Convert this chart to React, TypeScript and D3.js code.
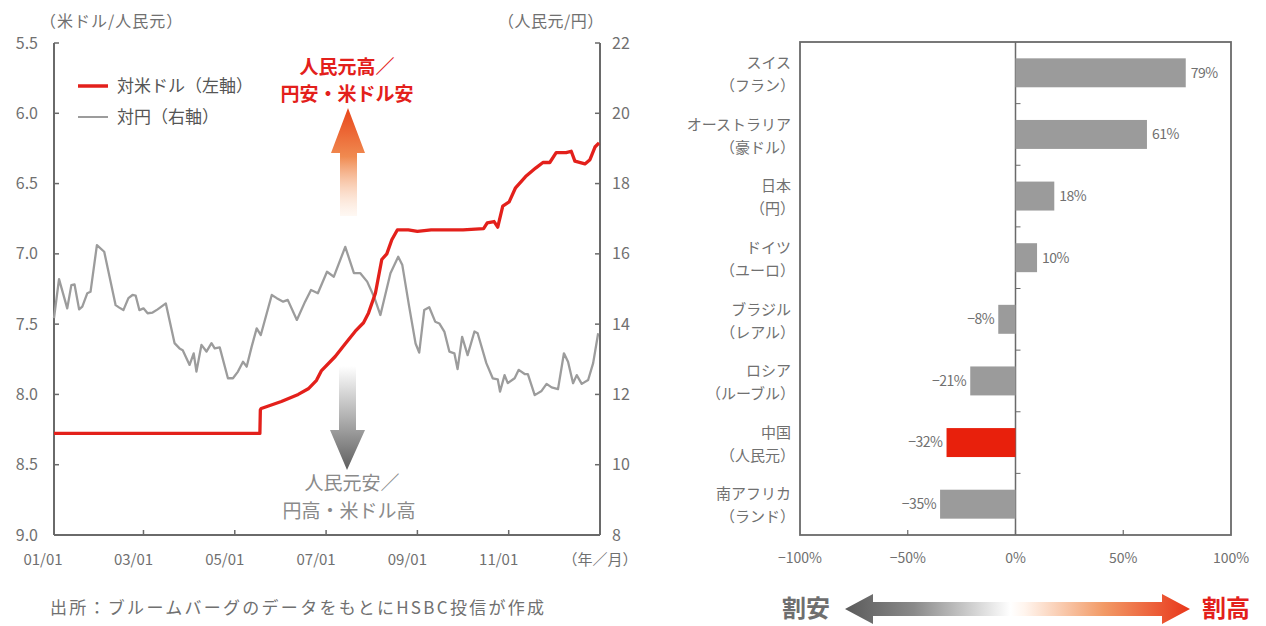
import React from "react";
import * as d3 from "d3";

// ---- Left chart data (decimal year, values) ----
const usdYears = [2001.0, 2005.55, 2005.56, 2005.58, 2006.02, 2006.39, 2006.61, 2006.79, 2006.9, 2007.2, 2007.42, 2007.64, 2007.82, 2007.93, 2008.08, 2008.22, 2008.33, 2008.44, 2008.56, 2008.8, 2009.0, 2009.3, 2009.6, 2010.0, 2010.45, 2010.53, 2010.68, 2010.76, 2010.87, 2011.01, 2011.15, 2011.37, 2011.59, 2011.75, 2011.9, 2012.04, 2012.26, 2012.37, 2012.45, 2012.67, 2012.78, 2012.89, 2012.98];
const usdValues = [8.277, 8.277, 8.11, 8.1, 8.05, 8.0, 7.96, 7.9, 7.83, 7.73, 7.64, 7.55, 7.49, 7.42, 7.28, 7.04, 7.0, 6.9, 6.83, 6.83, 6.84, 6.83, 6.83, 6.83, 6.82, 6.78, 6.77, 6.81, 6.66, 6.63, 6.53, 6.45, 6.39, 6.35, 6.35, 6.28, 6.28, 6.27, 6.34, 6.36, 6.33, 6.24, 6.21];

const jpyYears = [2001.0, 2001.15, 2001.33, 2001.42, 2001.49, 2001.59, 2001.66, 2001.77, 2001.84, 2001.98, 2002.14, 2002.39, 2002.47, 2002.56, 2002.67, 2002.76, 2002.83, 2002.91, 2003.0, 2003.09, 2003.2, 2003.31, 2003.49, 2003.68, 2003.79, 2003.86, 2004.01, 2004.1, 2004.16, 2004.27, 2004.38, 2004.49, 2004.56, 2004.67, 2004.85, 2004.96, 2005.07, 2005.18, 2005.26, 2005.37, 2005.48, 2005.57, 2005.81, 2005.92, 2006.06, 2006.16, 2006.36, 2006.54, 2006.67, 2006.82, 2007.02, 2007.17, 2007.42, 2007.61, 2007.75, 2007.9, 2008.05, 2008.19, 2008.41, 2008.58, 2008.67, 2008.82, 2008.96, 2009.04, 2009.15, 2009.26, 2009.39, 2009.48, 2009.59, 2009.7, 2009.81, 2009.88, 2009.98, 2010.1, 2010.25, 2010.32, 2010.51, 2010.65, 2010.76, 2010.81, 2010.91, 2010.98, 2011.13, 2011.22, 2011.35, 2011.42, 2011.57, 2011.72, 2011.83, 2011.94, 2012.08, 2012.21, 2012.3, 2012.41, 2012.49, 2012.6, 2012.74, 2012.85, 2012.96];
const jpyValues = [14.17, 15.28, 14.45, 15.11, 15.13, 14.42, 14.5, 14.88, 14.92, 16.25, 16.06, 14.54, 14.47, 14.4, 14.74, 14.83, 14.81, 14.4, 14.45, 14.31, 14.33, 14.42, 14.59, 13.46, 13.31, 13.26, 12.84, 13.17, 12.65, 13.41, 13.22, 13.46, 13.31, 13.34, 12.46, 12.46, 12.65, 12.93, 12.79, 13.36, 13.88, 13.69, 14.83, 14.74, 14.64, 14.69, 14.12, 14.64, 14.97, 14.88, 15.49, 15.35, 16.2, 15.45, 15.45, 15.21, 14.78, 14.26, 15.45, 15.92, 15.68, 14.5, 13.45, 13.19, 14.4, 14.48, 14.07, 14.02, 13.79, 13.22, 13.17, 12.72, 13.64, 13.12, 13.79, 13.74, 12.89, 12.46, 12.43, 12.08, 12.55, 12.32, 12.46, 12.7, 12.58, 12.58, 11.98, 12.1, 12.3, 12.2, 12.15, 13.17, 12.93, 12.32, 12.55, 12.3, 12.41, 12.89, 13.74];

const leftTicks = [5.5, 6.0, 6.5, 7.0, 7.5, 8.0, 8.5, 9.0];
const rightTicks = [22, 20, 18, 16, 14, 12, 10, 8];
const xTickYears = [2001, 2003, 2005, 2007, 2009, 2011];
const xTickLabels = ["01/01", "03/01", "05/01", "07/01", "09/01", "11/01"];

// ---- Right chart data ----
const countries = ["スイス", "オーストラリア", "日本", "ドイツ", "ブラジル", "ロシア", "中国", "南アフリカ"];
const currencies = ["（フラン）", "（豪ドル）", "（円）", "（ユーロ）", "（レアル）", "（ルーブル）", "（人民元）", "（ランド）"];
const valuations = [79, 61, 18, 10, -8, -21, -32, -35];
const highlightCountry = "中国";
const pctTicks = [-100, -50, 0, 50, 100];

const FONT = "'Noto Sans CJK JP', 'Noto Sans', sans-serif";
const GRAY_TXT = "#707070";
const AXIS = "#6a6a6a";
const RED = "#e3201b";

export default function App() {
  // left chart
  const L = { left: 54, right: 600, top: 43, bottom: 535 };
  const x = d3.scaleLinear().domain([2001.04, 2013]).range([L.left, L.right]);
  const yL = d3.scaleLinear().domain([5.5, 9.0]).range([L.top, L.bottom]);
  const yR = d3.scaleLinear().domain([8, 22]).range([L.bottom, L.top]);

  const usdLine = d3.line<number>().x((_, i) => x(Math.max(2001.04, usdYears[i]))).y((d) => yL(d))(usdValues) || "";
  const jpyLine = d3.line<number>().x((_, i) => x(Math.max(2001.04, jpyYears[i]))).y((d) => yR(d))(jpyValues) || "";

  // right chart
  const R = { left: 800, right: 1231, top: 42, bottom: 535 };
  const xB = d3.scaleLinear().domain([-100, 100]).range([R.left, R.right]);
  const yB = d3.scaleBand<string>().domain(countries).range([R.top, R.bottom]).paddingInner(0.53).paddingOuter(0.265);
  const step = yB.step();

  return (
    <svg width={1266} height={626} style={{ position: "absolute", left: 0, top: 0, display: "block", background: "#fff" }} fontFamily={FONT}>
      <defs>
        <linearGradient id="upGrad" x1="0" y1="0" x2="0" y2="1">
          <stop offset="0" stopColor="#e8451a" />
          <stop offset="0.45" stopColor="#f08a50" />
          <stop offset="1" stopColor="#fde8d8" stopOpacity="0.3" />
        </linearGradient>
        <linearGradient id="downGrad" x1="0" y1="0" x2="0" y2="1">
          <stop offset="0" stopColor="#ffffff" />
          <stop offset="0.5" stopColor="#b0b0b0" />
          <stop offset="1" stopColor="#5e5e5e" />
        </linearGradient>
        <linearGradient id="hGrad" x1="845" y1="0" x2="1190" y2="0" gradientUnits="userSpaceOnUse">
          <stop offset="0" stopColor="#5a5a5a" />
          <stop offset="0.2" stopColor="#8a8a8a" />
          <stop offset="0.48" stopColor="#ffffff" />
          <stop offset="0.52" stopColor="#fff5ee" />
          <stop offset="0.75" stopColor="#f29a66" />
          <stop offset="1" stopColor="#e8361a" />
        </linearGradient>
      </defs>

      {/* ===== Left chart ===== */}
      <text x={40} y={27} fontSize={16} fill={GRAY_TXT} letterSpacing={1}>（米ドル/人民元）</text>
      <text x={498} y={27} fontSize={16} fill={GRAY_TXT} letterSpacing={0.5}>（人民元/円）</text>

      {/* axes */}
      <line x1={L.left} y1={L.top} x2={L.left} y2={L.bottom} stroke={AXIS} strokeWidth={2} />
      <line x1={L.right} y1={L.top} x2={L.right} y2={L.bottom} stroke={AXIS} strokeWidth={2} />
      <line x1={L.left} y1={L.bottom} x2={L.right} y2={L.bottom} stroke={AXIS} strokeWidth={2} />
      {leftTicks.map((t) => (
        <g key={"lt" + t}>
          <line x1={L.left} x2={L.left + 5} y1={yL(t)} y2={yL(t)} stroke={AXIS} strokeWidth={1.5} />
          <text x={38} y={yL(t)} dy="0.35em" textAnchor="end" fontSize={16} fill={GRAY_TXT}>{t.toFixed(1)}</text>
        </g>
      ))}
      {rightTicks.map((t) => (
        <g key={"rt" + t}>
          <line x1={L.right - 5} x2={L.right} y1={yR(t)} y2={yR(t)} stroke={AXIS} strokeWidth={1.5} />
          <text x={612} y={yR(t)} dy="0.35em" textAnchor="start" fontSize={16} fill={GRAY_TXT}>{t}</text>
        </g>
      ))}
      {xTickYears.map((yv, i) => (
        <g key={"xt" + yv}>
          {i > 0 && <line x1={x(yv)} x2={x(yv)} y1={L.bottom - 5} y2={L.bottom} stroke={AXIS} strokeWidth={1.5} />}
          <text x={Math.max(x(yv) - 10, 43)} y={565} textAnchor="middle" fontSize={15} fill={GRAY_TXT}>{xTickLabels[i]}</text>
        </g>
      ))}
      <text x={600} y={565} textAnchor="middle" fontSize={15} fill={GRAY_TXT}>（年／月）</text>

      {/* arrows & annotations */}
      <path d="M348,108 L365,153 L357,153 L357,216 L340,216 L340,153 L331,153 Z" fill="url(#upGrad)" />
      <path d="M339,366 L356,366 L356,430 L365,430 L347,470 L330,430 L339,430 Z" fill="url(#downGrad)" />
      <text x={347} y={74} textAnchor="middle" fontSize={19} fontWeight="bold" fill={RED}>人民元高／</text>
      <text x={347} y={101} textAnchor="middle" fontSize={19} fontWeight="bold" fill={RED}>円安・米ドル安</text>
      <text x={352} y={490} textAnchor="middle" fontSize={19} fill="#8a8a8a">人民元安／</text>
      <text x={349} y={518} textAnchor="middle" fontSize={19} fill="#8a8a8a">円高・米ドル高</text>

      {/* lines */}
      <path d={jpyLine} fill="none" stroke="#9c9c9c" strokeWidth={2.3} strokeLinejoin="round" />
      <path d={usdLine} fill="none" stroke={RED} strokeWidth={3.3} strokeLinejoin="round" />

      {/* legend */}
      <line x1={78} x2={108} y1={86} y2={86} stroke={RED} strokeWidth={3.5} />
      <text x={117} y={86} dy="0.35em" fontSize={17} fill="#555">対米ドル（左軸）</text>
      <line x1={78} x2={108} y1={117} y2={117} stroke="#9c9c9c" strokeWidth={2} />
      <text x={117} y={117} dy="0.35em" fontSize={17} fill="#555">対円（右軸）</text>

      {/* source */}
      <text x={50} y={614} fontSize={17} fill="#707070" textLength={494} lengthAdjust="spacing">出所：ブルームバーグのデータをもとにHSBC投信が作成</text>

      {/* ===== Right chart ===== */}
      <rect x={R.left} y={R.top} width={R.right - R.left} height={R.bottom - R.top} fill="none" stroke={AXIS} strokeWidth={1.8} />
      <line x1={xB(0)} x2={xB(0)} y1={R.top} y2={R.bottom} stroke={AXIS} strokeWidth={1.5} />
      {countries.slice(1).map((c) => (
        <line key={"sep" + c} x1={xB(0)} x2={xB(0) + 5} y1={(yB(c) as number) - (step - yB.bandwidth()) / 2} y2={(yB(c) as number) - (step - yB.bandwidth()) / 2} stroke={AXIS} strokeWidth={1} />
      ))}
      {pctTicks.map((t) => (
        <g key={"pt" + t}>
          {t > -100 && t < 100 && <line x1={xB(t)} x2={xB(t)} y1={R.bottom - 5} y2={R.bottom} stroke={AXIS} strokeWidth={1.2} />}
          <text x={xB(t)} y={563} textAnchor="middle" fontSize={14} fill={GRAY_TXT}>{t < 0 ? "−" + Math.abs(t) + "%" : t + "%"}</text>
        </g>
      ))}
      {countries.map((c, i) => {
        const v = valuations[i];
        const y0 = yB(c) as number;
        const h = yB.bandwidth();
        const cy = y0 + h / 2;
        const x0 = xB(Math.min(0, v));
        const w = Math.abs(xB(v) - xB(0));
        return (
          <g key={c}>
            <rect x={x0} y={y0} width={w} height={h} fill={c === highlightCountry ? "#e8200c" : "#9b9b9b"} />
            <text x={v >= 0 ? xB(v) + 5 : xB(v) - 4} y={cy} dy="0.35em" textAnchor={v >= 0 ? "start" : "end"} fontSize={14} fill={GRAY_TXT} letterSpacing={-0.5}>
              {v < 0 ? "−" + Math.abs(v) + "%" : v + "%"}
            </text>
            <text x={791} y={cy - 10} dy="0.35em" textAnchor="end" fontSize={15} fill={GRAY_TXT}>{c}</text>
            <text x={795} y={cy + 13} dy="0.35em" textAnchor="end" fontSize={15} fill={GRAY_TXT}>{currencies[i]}</text>
          </g>
        );
      })}

      {/* bottom arrow */}
      <path d="M845,609 L873,594 L873,602 L1162,602 L1162,594 L1190,609 L1162,624 L1162,616 L873,616 L873,624 Z" fill="url(#hGrad)" />
      <text x={806} y={609} dy="0.35em" textAnchor="middle" fontSize={24} fontWeight="bold" fill="#6e6e6e">割安</text>
      <text x={1226} y={609} dy="0.35em" textAnchor="middle" fontSize={24} fontWeight="bold" fill={RED}>割高</text>
    </svg>
  );
}
